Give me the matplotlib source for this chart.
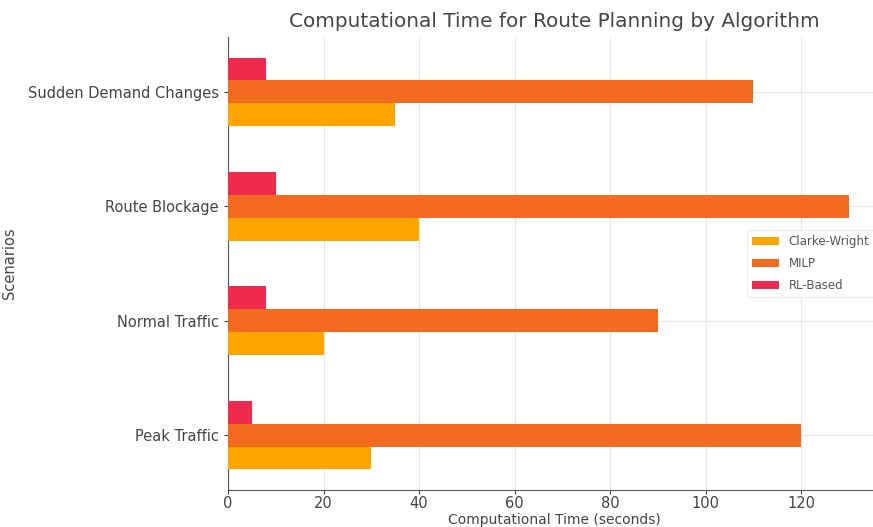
import numpy as np
import matplotlib.pyplot as plt

scenarios = ["Peak Traffic", "Normal Traffic", "Route Blockage", "Sudden Demand Changes"]
clarke_wright = [30, 20, 40, 35]
milp = [120, 90, 130, 110]
rl_based = [5, 8, 10, 8]

colors = ["#FFA500", "#F26B21", "#EE2A4F"]
h = 0.2
y = np.arange(len(scenarios))

fig = plt.figure(figsize=(8.73, 5.27), dpi=100)
# axes runs a bit past the right edge, as in the reference crop
ax = fig.add_axes([228 / 873, 37 / 527, 652 / 873, 453 / 527])

ax.barh(y - h, clarke_wright, height=h, color=colors[0], label="Clarke-Wright", zorder=3)
ax.barh(y, milp, height=h, color=colors[1], label="MILP", zorder=3)
ax.barh(y + h, rl_based, height=h, color=colors[2], label="RL-Based", zorder=3)

ax.set_yticks(y)
ax.set_yticklabels(scenarios)
ax.set_xticks([0, 20, 40, 60, 80, 100, 120])
ax.grid(True, color="#e6e6e6", linewidth=0.8, zorder=0)
ax.spines["top"].set_visible(False)
ax.spines["right"].set_visible(False)
ax.spines["left"].set_color("#555555")
ax.spines["bottom"].set_color("#555555")
ax.tick_params(colors="#444444", labelsize=10.5, length=3)
ax.tick_params(axis="x", pad=1.5)

ax.set_title("Computational Time for Route Planning by Algorithm", fontsize=14.4, color="#444444", pad=7)
ax.set_xlabel("Computational Time (seconds)", fontsize=10, color="#444444", labelpad=1)
ax.set_ylabel("Scenarios", fontsize=10.5, color="#444444", labelpad=8)
ax.legend(loc="center right", fontsize=8.5, frameon=True, framealpha=1,
          edgecolor="#eeeeee", labelcolor="#555555", bbox_to_anchor=(1.0, 0.5),
          handlelength=2.3, labelspacing=0.75)

fig.savefig("out.png", dpi=100)
